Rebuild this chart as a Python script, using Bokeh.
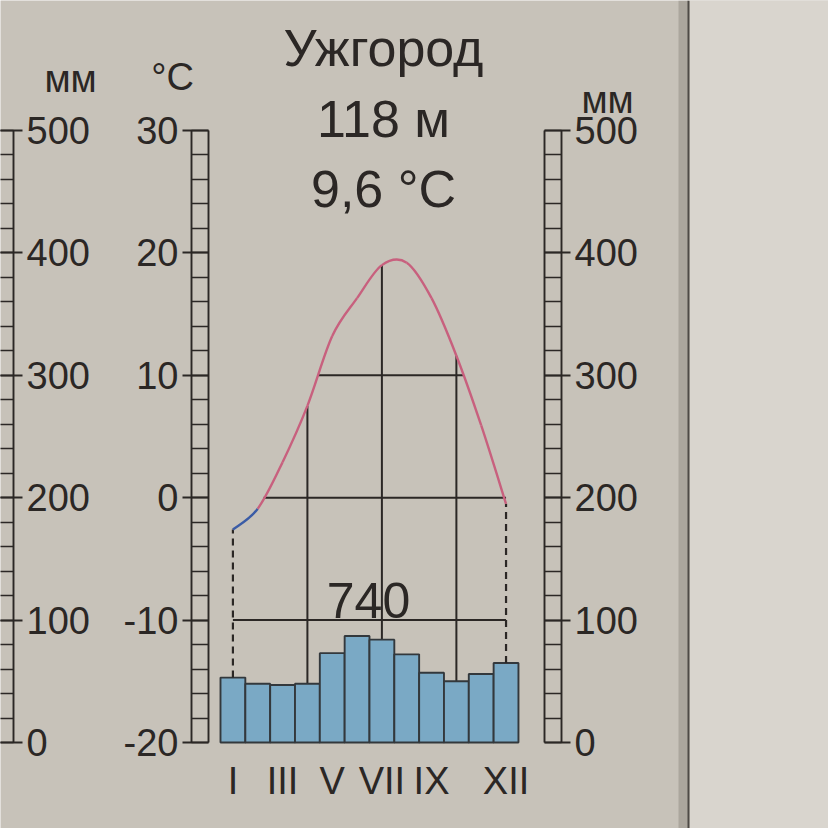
from bokeh.plotting import figure
from bokeh.models import Range1d, LinearAxis, FixedTicker, BoxAnnotation, Span
from bokeh.core.properties import value
from bokeh.embed import file_html
from bokeh.resources import INLINE

# station header
station = "Ужгород"
elevation = "118 м"
annual_temp = "9,6 °C"

# monthly data
months = list(range(1, 13))
temp_c = [-2.6, -0.9, 2.9, 7.5, 13.2, 16.3, 19.0, 19.2, 16.3, 11.6, 5.9, -0.5]
precip_mm = [53, 48, 47, 48, 73, 87, 84, 72, 57, 50, 56, 65]

# axes
month_ticks = [1, 3, 5, 7, 9, 12]
month_labels = ["I", "III", "V", "VII", "IX", "XII"]
temp_ticks = [-20, -10, 0, 10, 20, 30]
temp_minor = list(range(-20, 31, 2))
mm_ticks = [0, 100, 200, 300, 400, 500]
mm_minor = list(range(0, 501, 20))
guide_months = [4, 7, 10]
sum_level_mm = 100

FONT = "Liberation Sans"
INK = "#2b2725"
PAPER = "#c7c2b9"
PAPER_RIGHT = "#d9d5ce"
BAR = "#7aa9c5"
RED = "#c8607e"
BLUE = "#3b5ca6"

W = H = 828
PPX = 24.83          # pixels per month
PPY = 12.24          # pixels per degree
X0 = 0.5 - 220 / PPX  # data x at the left edge
Y0 = 40.62            # data y at the top edge


def at_x(px):
    return X0 + px / PPX


def at_y(py):
    return Y0 - py / PPY


def to_mm(t):
    # both scales share the same height: -20..30 C  <->  0..500 mm
    return (t + 20) * 10


def crossings(level):
    out = []
    for i in range(len(months) - 1):
        a, b = temp_c[i], temp_c[i + 1]
        if (a - level) * (b - level) < 0:
            out.append(months[i] + (level - a) / (b - a))
    return out


p = figure(width=W, height=H, output_backend="svg", toolbar_location=None,
           x_range=Range1d(X0, X0 + W / PPX), y_range=Range1d(Y0 - H / PPY, Y0),
           x_axis_location=None, y_axis_location=None, min_border=0)
p.extra_y_ranges = {"mm": Range1d(to_mm(Y0 - H / PPY), to_mm(Y0))}
p.background_fill_color = PAPER
p.border_fill_color = PAPER
p.outline_line_color = None
p.xgrid.visible = False
p.ygrid.visible = False

# page edge on the right
p.add_layout(BoxAnnotation(left=at_x(689), fill_color=PAPER_RIGHT, fill_alpha=1,
                           line_color=None, level="underlay"))
p.add_layout(Span(location=at_x(683), dimension="height", line_color="#8a847d",
                  line_width=10, line_alpha=0.45))
p.add_layout(Span(location=at_x(688), dimension="height", line_color="#4e4a46",
                  line_width=2))


def ladder_axis(side, loc, inner, ticks, minor, rng, range_name="default"):
    ax = LinearAxis(fixed_location=loc, bounds=(ticks[0], ticks[-1]),
                    ticker=FixedTicker(ticks=ticks, minor_ticks=minor),
                    y_range_name=range_name)
    ax.major_label_overrides = {t: str(t) for t in ticks}
    ax.axis_line_color = INK
    ax.axis_line_width = 1.9
    ax.major_tick_line_color = INK
    ax.major_tick_line_width = 1.9
    ax.minor_tick_line_color = INK
    ax.minor_tick_line_width = 1.5
    ax.major_tick_out = 9
    ax.major_tick_in = 17
    ax.minor_tick_out = 0
    ax.minor_tick_in = 17
    ax.major_label_standoff = 4
    ax.major_label_text_font = FONT
    ax.major_label_text_font_size = "38px"
    ax.major_label_text_color = INK
    p.add_layout(ax, side)
    p.segment(x0=[inner], y0=[rng[0]], x1=[inner], y1=[rng[1]],
              y_range_name=range_name, line_color=INK, line_width=1.9)


# temperature scale, precipitation scale, and the neighbouring diagram's scale
ladder_axis("left", at_x(191), at_x(208), temp_ticks, temp_minor, (-20, 30))
ladder_axis("right", at_x(561), at_x(544), mm_ticks, mm_minor, (0, 500), "mm")
ladder_axis("right", at_x(13), at_x(-4), mm_ticks, mm_minor, (0, 500), "mm")

# month labels
mx = LinearAxis(fixed_location=-20, ticker=FixedTicker(ticks=month_ticks))
mx.major_label_overrides = dict(zip(month_ticks, month_labels))
mx.axis_line_color = None
mx.major_tick_line_color = None
mx.minor_tick_line_color = None
mx.major_label_standoff = 12
mx.major_label_text_font = FONT
mx.major_label_text_font_size = "38px"
mx.major_label_text_color = INK
p.add_layout(mx, "below")

# guide lines from the bottom up to the curve
p.segment(x0=guide_months, y0=[-20] * len(guide_months), x1=guide_months,
          y1=[temp_c[m - 1] for m in guide_months], line_color=INK, line_width=2)

# precipitation bars
p.vbar(x=months, top=precip_mm, bottom=0, width=1, y_range_name="mm",
       fill_color=BAR, line_color="#33383c", line_width=1.9)

# periods above 0 and 10 degrees
z = crossings(0)
t10 = crossings(10)
p.segment(x0=[z[0], t10[0]], y0=[0, 10], x1=[months[-1], t10[1]], y1=[0, 10],
          line_color=INK, line_width=2)

# annual precipitation bracket
p.segment(x0=[months[0], months[-1]], y0=[precip_mm[0], precip_mm[-1]],
          x1=[months[0], months[-1]], y1=[to_mm(temp_c[0]), to_mm(temp_c[-1])],
          y_range_name="mm", line_color=INK, line_width=2.2, line_dash="7 5")
p.segment(x0=[months[0]], y0=[sum_level_mm], x1=[months[-1]], y1=[sum_level_mm],
          y_range_name="mm", line_color=INK, line_width=2)
p.text(x=[at_x(368)], y=[to_mm(at_y(600))], text=[str(sum(precip_mm))], y_range_name="mm",
       text_font=value(FONT), text_font_size="50px", text_color=INK,
       text_align="center", text_baseline="middle")

# temperature curve drawn smoothly through the monthly values,
# blue while both ends are below zero, red otherwise
n = len(months)
bx0, by0, bx1, by1, cx0, cy0, cx1, cy1, bcol = [], [], [], [], [], [], [], [], []
for i in range(n - 1):
    xa, ya = months[i], temp_c[i]
    xb, yb = months[i + 1], temp_c[i + 1]
    xp, yp = (months[i - 1], temp_c[i - 1]) if i > 0 else (xa, ya)
    xn, yn = (months[i + 2], temp_c[i + 2]) if i + 2 < n else (xb, yb)
    bx0.append(xa)
    by0.append(ya)
    bx1.append(xb)
    by1.append(yb)
    cx0.append(xa + (xb - xp) / 6)
    cy0.append(ya + (yb - yp) / 6)
    cx1.append(xb - (xn - xa) / 6)
    cy1.append(yb - (yn - ya) / 6)
    bcol.append(BLUE if ya < 0 and yb < 0 else RED)
p.bezier(x0=bx0, y0=by0, x1=bx1, y1=by1, cx0=cx0, cy0=cy0, cx1=cx1, cy1=cy1,
         line_color=bcol, line_width=2.4)

# header
p.text(x=[at_x(383)] * 3, y=[at_y(47), at_y(118), at_y(188)],
       text=[station, elevation, annual_temp],
       text_font=value(FONT), text_font_size="52px", text_color=INK,
       text_align="center", text_baseline="middle")

# units
p.text(x=[at_x(172), at_x(607), at_x(70)], y=[at_y(76), at_y(99), at_y(78)],
       text=["°C", "мм", "мм"],
       text_font=value(FONT), text_font_size="38px", text_color=INK,
       text_align="center", text_baseline="middle")

open("out.html", "w").write(file_html(p, INLINE))
